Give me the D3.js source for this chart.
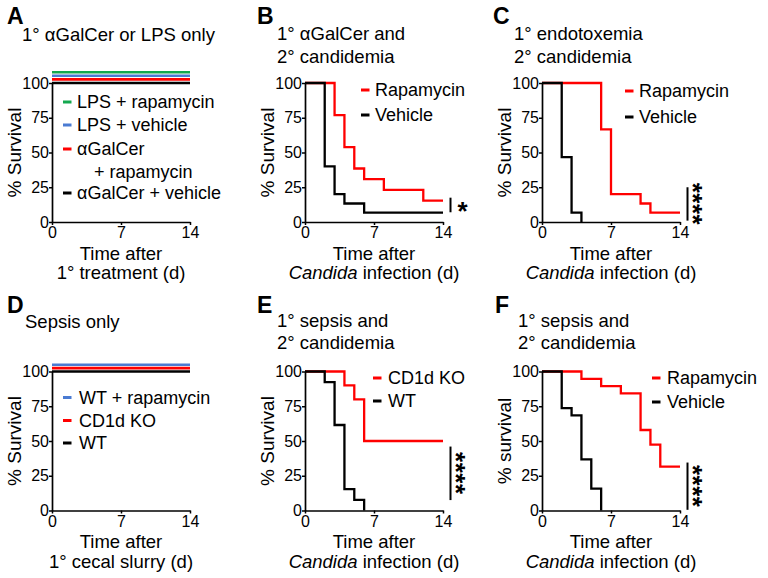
<!DOCTYPE html>
<html>
<head>
<meta charset="utf-8">
<script src="https://cdn.jsdelivr.net/npm/d3@7"></script>
<style>
  body { margin: 0; background: #fff; }
  text { font-family: "Liberation Sans", Arial, Helvetica, sans-serif; fill: #000; }
</style>
</head>
<body>
<script>
// ---------- data ----------
const dayTicks = [0, 7, 14];
const survTicks = [0, 25, 50, 75, 100];

// Panel A (all 100% survival)
const aTime = [0, 14];
const aLpsRapa = [100, 100];
const aLpsVeh = [100, 100];
const aGalRapa = [100, 100];
const aGalVeh = [100, 100];

// Panel B
const bRapaTime = [0, 3, 4, 5, 6, 8, 12, 14];
const bRapaSurv = [100, 76.9, 53.8, 38.5, 30.8, 23.1, 15.4, 15.4];
const bVehTime = [0, 2, 3, 4, 6, 14];
const bVehSurv = [100, 40, 20, 13.3, 6.7, 6.7];

// Panel C
const cRapaTime = [0, 6, 7, 10, 11, 14];
const cRapaSurv = [100, 66.7, 20, 13.3, 6.7, 6.7];
const cVehTime = [0, 2, 3, 4];
const cVehSurv = [100, 46.7, 6.7, 0];

// Panel D (all 100% survival)
const dTime = [0, 14];
const dWtRapa = [100, 100];
const dKo = [100, 100];
const dWt = [100, 100];

// Panel E
const eKoTime = [0, 4, 5, 6, 14];
const eKoSurv = [100, 90, 80, 50, 50];
const eWtTime = [0, 2, 3, 4, 5, 6];
const eWtSurv = [100, 92.3, 61.5, 15.4, 7.7, 0];

// Panel F
const fRapaTime = [0, 4, 6, 8, 10, 11, 12, 14];
const fRapaSurv = [100, 94.7, 89.5, 84.2, 57.9, 47.4, 31.6, 31.6];
const fVehTime = [0, 2, 3, 4, 5, 6];
const fVehSurv = [100, 73.7, 68.4, 36.8, 15.8, 0];

// significance bars [low, high] in % survival, label
const sigB = [7, 17.5], sigBLabel = "*";
const sigC = [1, 25], sigCLabel = "****";
const sigE = [7.5, 46], sigELabel = "****";
const sigF = [0.5, 34.5], sigFLabel = "****";

// ---------- drawing ----------
const RED = "#ff0000", BLACK = "#000000", GREEN = "#14a84f", BLUE = "#4a7bd2";
const FONT = '"Liberation Sans", Arial, Helvetica, sans-serif';

const svg = d3.select("body").append("svg").attr("width", 768).attr("height", 578);

const zip = (t, s) => t.map((d, i) => [d, s[i]]);

function drawPanel(p) {
  const x = d3.scaleLinear().domain([0, 14]).range([p.ax, p.ax + 138]);
  const y = d3.scaleLinear().domain([0, 100]).range([p.y0, p.y100]);
  const g = svg.append("g");

  // letter
  g.append("text").attr("x", p.letterX).attr("y", p.letterY)
    .style("font-size", "23px").style("font-weight", "bold").text(p.letter);
  // title
  p.title.forEach((t, i) => {
    g.append("text").attr("x", p.titleX).attr("y", p.titleY + i * 22.7)
      .style("font-size", "18.5px").text(t);
  });

  // series lines
  const line = d3.line().x(d => x(d[0])).y(d => y(d[1])).curve(d3.curveStepAfter);
  p.series.forEach(s => {
    g.append("path").datum(zip(s.time, s.surv))
      .attr("d", line)
      .attr("transform", `translate(0,${-(s.off || 0)})`)
      .attr("fill", "none").attr("stroke", s.color)
      .attr("stroke-width", s.w || 2.3).attr("stroke-linejoin", "miter");
  });

  // axes
  const xa = d3.axisBottom(x).tickValues(dayTicks).tickSizeInner(3).tickSizeOuter(0).tickPadding(2);
  const ya = d3.axisLeft(y).tickValues(survTicks).tickSizeInner(3).tickSizeOuter(0).tickPadding(0);
  const gx = g.append("g").attr("transform", `translate(0,${p.y0})`).call(xa);
  const gy = g.append("g").attr("transform", `translate(${p.ax},0)`).call(ya);
  [gx, gy].forEach(a => {
    a.attr("font-family", FONT).attr("font-size", 16);
    a.select(".domain").attr("stroke", "#000").attr("stroke-width", 1.7);
    a.selectAll(".tick line").attr("stroke", "#000").attr("stroke-width", 1.5);
    a.selectAll(".tick text").attr("fill", "#000").style("font-size", "16px");
  });

  // y label
  g.append("text")
    .attr("transform", `translate(${p.ax - 31},${(p.y0 + p.y100) / 2}) rotate(-90)`)
    .attr("text-anchor", "middle").style("font-size", "19px").text(p.ylabel);

  // x label
  const cx = p.ax + 69;
  g.append("text").attr("x", cx).attr("y", p.y0 + 37.5).attr("text-anchor", "middle")
    .style("font-size", "18.5px").text("Time after");
  const l2 = g.append("text").attr("x", cx).attr("y", p.y0 + 57).attr("text-anchor", "middle")
    .style("font-size", "18.5px");
  p.xlabel2.forEach(part => {
    l2.append("tspan").style("font-style", part.it ? "italic" : "normal").text(part.t);
  });

  // legend
  p.legend.forEach((L, i) => {
    const ly = p.y100 + L.dy;
    if (L.color) {
      g.append("line").attr("x1", p.ax + p.legDash).attr("x2", p.ax + p.legDash + 8.5)
        .attr("y1", ly).attr("y2", ly).attr("stroke", L.color).attr("stroke-width", 3);
    }
    g.append("text").attr("x", p.ax + p.legText + (L.indent || 0)).attr("y", ly).attr("dy", "0.35em")
      .style("font-size", "18px").text(L.t);
  });

  // significance
  if (p.sig) {
    const bx = x(14) + 7.5;
    g.append("line").attr("x1", bx).attr("x2", bx)
      .attr("y1", y(p.sig[0])).attr("y2", y(p.sig[1]))
      .attr("stroke", "#000").attr("stroke-width", 2);
    const my = (y(p.sig[0]) + y(p.sig[1])) / 2;
    if (p.sigLabel.length === 1) {
      g.append("text").attr("x", bx + 12).attr("y", my + 15).attr("text-anchor", "middle")
        .style("font-size", "26px").style("font-weight", "bold").text(p.sigLabel);
    } else {
      g.append("text").attr("transform", `translate(${bx - 4},${my}) rotate(90)`)
        .attr("text-anchor", "middle")
        .style("font-size", "26px").style("font-weight", "bold").style("letter-spacing", "0.5px")
        .text(p.sigLabel);
    }
  }
}

const TOP = { y100: 83, y0: 222 };
const BOT = { y100: 371.5, y0: 510.5 };
const candida = [{ t: "Candida", it: true }, { t: " infection (d)" }];

drawPanel({
  ax: 52, ...TOP, letter: "A", letterX: 7, letterY: 24,
  title: ["1° αGalCer or LPS only"], titleX: 22, titleY: 40.5,
  ylabel: "% Survival", xlabel2: [{ t: "1° treatment (d)" }],
  series: [
    { time: aTime, surv: aGalVeh, color: BLACK, off: 0, w: 2.6 },
    { time: aTime, surv: aGalRapa, color: RED, off: 3.6, w: 2.6 },
    { time: aTime, surv: aLpsVeh, color: BLUE, off: 7.2, w: 2.6 },
    { time: aTime, surv: aLpsRapa, color: GREEN, off: 10.8, w: 2.6 }
  ],
  legDash: 11, legText: 25,
  legend: [
    { t: "LPS + rapamycin", color: GREEN, dy: 19 },
    { t: "LPS + vehicle", color: BLUE, dy: 42 },
    { t: "αGalCer", color: RED, dy: 66 },
    { t: "+ rapamycin", dy: 89, indent: 17 },
    { t: "αGalCer + vehicle", color: BLACK, dy: 110 }
  ]
});

drawPanel({
  ax: 305, ...TOP, letter: "B", letterX: 257, letterY: 24,
  title: ["1° αGalCer and", "2° candidemia"], titleX: 277, titleY: 40,
  ylabel: "% Survival", xlabel2: candida,
  series: [
    { time: bRapaTime, surv: bRapaSurv, color: RED },
    { time: bVehTime, surv: bVehSurv, color: BLACK }
  ],
  legDash: 56, legText: 70,
  legend: [
    { t: "Rapamycin", color: RED, dy: 7 },
    { t: "Vehicle", color: BLACK, dy: 32 }
  ],
  sig: sigB, sigLabel: sigBLabel
});

drawPanel({
  ax: 542, ...TOP, letter: "C", letterX: 493, letterY: 24,
  title: ["1° endotoxemia", "2° candidemia"], titleX: 514, titleY: 40,
  ylabel: "% Survival", xlabel2: candida,
  series: [
    { time: cRapaTime, surv: cRapaSurv, color: RED },
    { time: cVehTime, surv: cVehSurv, color: BLACK }
  ],
  legDash: 83, legText: 97,
  legend: [
    { t: "Rapamycin", color: RED, dy: 8 },
    { t: "Vehicle", color: BLACK, dy: 34 }
  ],
  sig: sigC, sigLabel: sigCLabel
});

drawPanel({
  ax: 52, ...BOT, letter: "D", letterX: 7, letterY: 312.5,
  title: ["Sepsis only"], titleX: 25, titleY: 327.5,
  ylabel: "% Survival", xlabel2: [{ t: "1° cecal slurry (d)" }],
  series: [
    { time: dTime, surv: dWt, color: BLACK, off: 0, w: 2.6 },
    { time: dTime, surv: dKo, color: RED, off: 3.4, w: 2.6 },
    { time: dTime, surv: dWtRapa, color: BLUE, off: 6.8, w: 2.6 }
  ],
  legDash: 11, legText: 27,
  legend: [
    { t: "WT + rapamycin", color: BLUE, dy: 26 },
    { t: "CD1d KO", color: RED, dy: 49 },
    { t: "WT", color: BLACK, dy: 71.5 }
  ]
});

drawPanel({
  ax: 305, ...BOT, letter: "E", letterX: 257, letterY: 312.5,
  title: ["1° sepsis and", "2° candidemia"], titleX: 277, titleY: 326.7,
  ylabel: "% Survival", xlabel2: candida,
  series: [
    { time: eKoTime, surv: eKoSurv, color: RED },
    { time: eWtTime, surv: eWtSurv, color: BLACK }
  ],
  legDash: 68, legText: 83,
  legend: [
    { t: "CD1d KO", color: RED, dy: 6.5 },
    { t: "WT", color: BLACK, dy: 29.5 }
  ],
  sig: sigE, sigLabel: sigELabel
});

drawPanel({
  ax: 542, ...BOT, letter: "F", letterX: 495, letterY: 312.5,
  title: ["1° sepsis and", "2° candidemia"], titleX: 518, titleY: 326.7,
  ylabel: "% survival", xlabel2: candida,
  series: [
    { time: fRapaTime, surv: fRapaSurv, color: RED },
    { time: fVehTime, surv: fVehSurv, color: BLACK }
  ],
  legDash: 110, legText: 125,
  legend: [
    { t: "Rapamycin", color: RED, dy: 6.5 },
    { t: "Vehicle", color: BLACK, dy: 30.5 }
  ],
  sig: sigF, sigLabel: sigFLabel
});
</script>
</body>
</html>
